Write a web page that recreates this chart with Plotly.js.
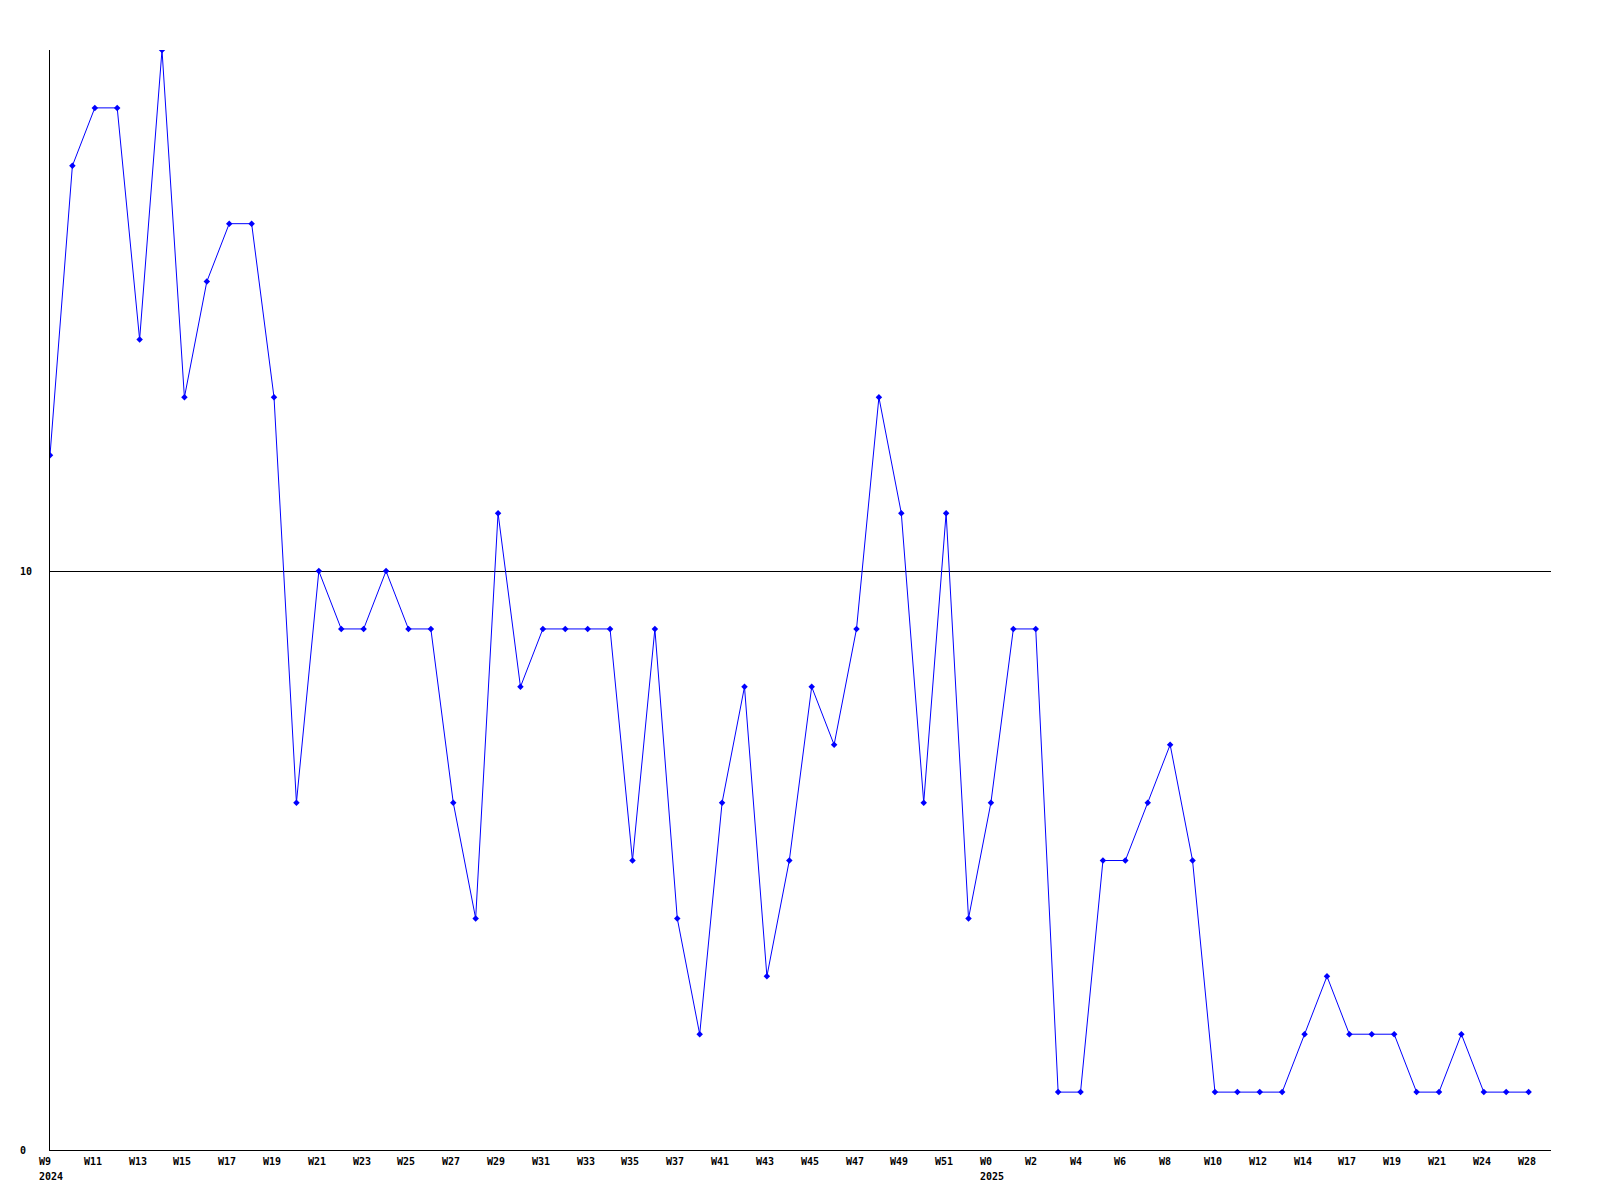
<!DOCTYPE html>
<html>
<head>
<meta charset="utf-8">
<script src="https://cdn.plot.ly/plotly-3.0.1.min.js"></script>
<style>html,body{margin:0;padding:0;background:#fff;}</style>
</head>
<body>
<div id="chart" style="width:1600px;height:1200px;"></div>
<script>
// Week labels for each data point (every second one is shown on the axis)
const weeks = ["W9","W10","W11","W12","W13","W14","W15","W16","W17","W18",
  "W19","W20","W21","W22","W23","W24","W25","W26","W27","W28",
  "W29","W30","W31","W32","W33","W34","W35","W36","W37","W39",
  "W41","W42","W43","W44","W45","W46","W47","W48","W49","W50",
  "W51","W52","W0","W1","W2","W3","W4","W5","W6","W7",
  "W8","W9","W10","W11","W12","W13","W14","W15","W17","W18",
  "W19","W20","W21","W22","W24","W26","W28"];
// Year shown under the first week of each year
const years = {0: "2024", 42: "2025"};
// Values per week
const values = [12,17,18,18,14,19,13,15,16,16,
  13,6,10,9,9,10,9,9,6,4,
  11,8,9,9,9,9,5,9,4,2,
  6,8,3,5,8,7,9,13,11,6,
  11,4,6,9,9,1,1,5,5,6,
  7,5,1,1,1,1,2,3,2,2,
  2,1,1,2,1,1,1];
const yTicks = [0, 10];

const xIdx = weeks.map((w, i) => i);
const font = {family: "DejaVu Sans Mono, Liberation Mono, monospace", size: 10, color: "#000"};

const annotations = [];
weeks.forEach((w, i) => {
  if (i % 2 === 0) {
    annotations.push({
      x: i, y: 0, xref: "x", yref: "paper",
      text: "<b>" + w + "</b>",
      showarrow: false, xanchor: "left", yanchor: "top", align: "left",
      xshift: -13, yshift: -4, font: font
    });
    if (years[i]) {
      annotations.push({
        x: i, y: 0, xref: "x", yref: "paper",
        text: "<b>" + years[i] + "</b>",
        showarrow: false, xanchor: "left", yanchor: "top", align: "left",
        xshift: -13, yshift: -19, font: font
      });
    }
  }
});
yTicks.forEach(v => {
  annotations.push({
    x: 0, y: v, xref: "paper", yref: "y",
    text: "<b>" + v + "</b>", showarrow: false,
    xanchor: "left", yanchor: "middle", xshift: -32, font: font
  });
});

const trace = {
  x: xIdx, y: values, type: "scatter", mode: "lines+markers",
  line: {color: "#0000ff", width: 1},
  marker: {color: "#0000ff", symbol: "diamond", size: 5},
  hoverinfo: "skip"
};

const layout = {
  width: 1600, height: 1200,
  margin: {l: 50, r: 49, t: 50, b: 50},
  paper_bgcolor: "#fff", plot_bgcolor: "#fff",
  showlegend: false,
  xaxis: {
    range: [0, 67], showgrid: false, zeroline: false,
    showline: true, linecolor: "#000", linewidth: 1,
    showticklabels: false, ticks: ""
  },
  yaxis: {
    range: [0, 19], tickvals: yTicks, showticklabels: false,
    showgrid: true, gridcolor: "#000", gridwidth: 1,
    zeroline: false, showline: true, linecolor: "#000", linewidth: 1, ticks: ""
  },
  annotations: annotations
};

Plotly.newPlot("chart", [trace], layout, {staticPlot: true, displayModeBar: false});
</script>
</body>
</html>
